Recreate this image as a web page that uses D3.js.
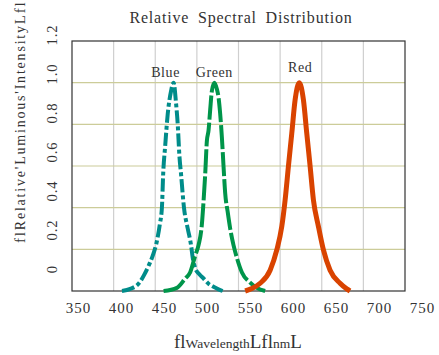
<!DOCTYPE html>
<html>
<head>
<meta charset="utf-8">
<script src="https://cdn.jsdelivr.net/npm/d3@7"></script>
<style>
  body { margin: 0; background: #fff; }
  text { font-family: "Liberation Serif", "Times New Roman", serif; fill: #333; }
</style>
</head>
<body>
<div id="chart"></div>
<script>
// Spectral curves, wavelength (nm) / relative intensity pairs
var blueWave = [410, 420, 431, 437, 443, 447, 452, 455.5, 458, 459.5, 462, 465, 469, 472, 475, 477, 479, 481, 484.5, 489, 493, 495, 498, 503, 508, 514, 520, 526, 531];
var blueVal  = [0, 0.01, 0.04, 0.08, 0.13, 0.17, 0.24, 0.32, 0.4, 0.56, 0.7, 0.85, 0.96, 1.0, 0.9, 0.8, 0.65, 0.56, 0.4, 0.3, 0.22, 0.16, 0.11, 0.08, 0.06, 0.035, 0.02, 0.008, 0];

var greenWave = [460, 476, 486, 492, 498, 502, 506, 508, 510, 512, 514, 516, 518, 521, 524, 526, 528, 530, 532, 534, 537, 540, 544, 548, 554, 564, 572, 582];
var greenVal  = [0, 0.015, 0.06, 0.09, 0.17, 0.22, 0.32, 0.43, 0.56, 0.72, 0.77, 0.87, 0.96, 1.0, 0.97, 0.93, 0.85, 0.74, 0.6, 0.47, 0.38, 0.3, 0.22, 0.16, 0.09, 0.04, 0.015, 0];

var redWave = [558, 566, 576, 588, 596, 602, 606, 610, 614, 618, 623, 628, 632, 636, 640, 646, 652, 660, 672, 680, 684];
var redVal  = [0, 0.012, 0.037, 0.1, 0.197, 0.31, 0.437, 0.6, 0.757, 0.917, 1.0, 0.917, 0.757, 0.6, 0.437, 0.31, 0.197, 0.1, 0.037, 0.01, 0];

var seriesNames = ["Blue", "Green", "Red"];
var xTicks = [350, 400, 450, 500, 550, 600, 650, 700, 750];
var yTicks = [0, 0.2, 0.4, 0.6, 0.8, 1.0, 1.2];

var width = 439, height = 355;
// plot box (careful: "top" is taken by window.top)
var pLeft = 72, pRight = 405, pTop = 41, pBottom = 291;

var svg = d3.select("#chart").append("svg")
    .attr("width", width)
    .attr("height", height);

var x = d3.scaleLinear().domain([350, 750]).range([pLeft, pRight]);
var y = d3.scaleLinear().domain([0, 1.2]).range([pBottom, pTop]);
// the tick labels in the picture drift off the grid a bit
var xLab = d3.scaleLinear().domain([350, 750]).range([78, 422]);
var yLab = d3.scaleLinear().domain([0, 1.2]).range([269, 35]);

// grid
svg.append("g").selectAll("line")
    .data(xTicks.slice(1, -1)).enter().append("line")
    .attr("x1", function(d) { return x(d); })
    .attr("x2", function(d) { return x(d); })
    .attr("y1", pTop).attr("y2", pBottom)
    .attr("stroke", "#cfcfcf").attr("stroke-width", 1.2);

svg.append("g").selectAll("line")
    .data(yTicks.slice(1, -1)).enter().append("line")
    .attr("x1", pLeft).attr("x2", pRight)
    .attr("y1", function(d) { return y(d); })
    .attr("y2", function(d) { return y(d); })
    .attr("stroke", "#cccc99").attr("stroke-width", 1.2);

// frame
svg.append("rect")
    .attr("x", pLeft).attr("y", pTop)
    .attr("width", pRight - pLeft).attr("height", pBottom - pTop)
    .attr("fill", "none").attr("stroke", "#333").attr("stroke-width", 1.2);

// tick labels
var xAxis = d3.axisBottom(xLab).tickValues(xTicks).tickSize(0).tickPadding(0);
var gx = svg.append("g").attr("transform", "translate(0," + 313 + ")").call(xAxis);
gx.select(".domain").remove();
gx.selectAll("text")
    .attr("dy", 0).attr("y", 0)
    .style("font-family", "Liberation Serif")
    .style("font-size", "15px")
    .style("letter-spacing", "1px")
    .attr("fill", "#333");

svg.append("g").selectAll("text")
    .data(yTicks).enter().append("text")
    .attr("transform", function(d) { return "translate(57," + yLab(d) + ")rotate(-90)"; })
    .attr("text-anchor", "middle")
    .style("font-size", "14.5px")
    .style("letter-spacing", "1px")
    .text(function(d) { return d === 0 ? "0" : d.toFixed(1); });

// curves
var line = d3.line()
    .x(function(d) { return x(d[0]); })
    .y(function(d) { return y(d[1]); })
    .curve(d3.curveMonotoneX);

var curves = [
  { w: blueWave, v: blueVal, color: "#008c8a", dash: "13,3,4,3", sw: 4 },
  { w: greenWave, v: greenVal, color: "#00954a", dash: "24,3", sw: 4 },
  { w: redWave, v: redVal, color: "#d94300", dash: null, sw: 5 }
];

curves.forEach(function(c) {
  var pts = d3.zip(c.w, c.v);
  svg.append("path")
      .datum(pts)
      .attr("d", line)
      .attr("fill", "none")
      .attr("stroke", c.color)
      .attr("stroke-width", c.sw)
      .attr("stroke-dasharray", c.dash)
      .attr("stroke-linejoin", "round");
});

// series names over each peak
var peakAt = [blueWave[blueVal.indexOf(1.0)], greenWave[greenVal.indexOf(1.0)], redWave[redVal.indexOf(1.0)]];
var nameDx = [-8, 0, 1];
var nameDy = [-6, -6, -11];
svg.append("g").selectAll("text")
    .data(seriesNames).enter().append("text")
    .attr("x", function(d, i) { return x(peakAt[i]) + nameDx[i]; })
    .attr("y", function(d, i) { return y(1.0) + nameDy[i]; })
    .attr("text-anchor", "middle")
    .style("font-size", "14px")
    .style("letter-spacing", "0.6px")
    .text(function(d) { return d; });

// title
svg.append("text")
    .attr("x", 241).attr("y", 23)
    .attr("text-anchor", "middle")
    .style("font-size", "16px")
    .style("letter-spacing", "0.8px")
    .style("word-spacing", "4px")
    .text("Relative Spectral Distribution");

// axis titles (the odd glyphs are in the original)
var xt = svg.append("text")
    .attr("x", 174).attr("y", 348);
xt.append("tspan").style("font-size", "19px").text("fl");
xt.append("tspan").style("font-size", "13.5px").text("Wavelength");
xt.append("tspan").style("font-size", "19px").text("Lfl");
xt.append("tspan").style("font-size", "13.5px").text("nm");
xt.append("tspan").style("font-size", "19px").text("L");

var yt = svg.append("text")
    .attr("transform", "translate(25,243)rotate(-90)")
    .style("font-size", "14px")
    .style("letter-spacing", "1.8px");
yt.append("tspan").style("font-size", "15px").text("fl");
yt.append("tspan").text("Relative'Luminous'Intensity");
yt.append("tspan").style("font-size", "15px").text("Lfl");
</script>
</body>
</html>
